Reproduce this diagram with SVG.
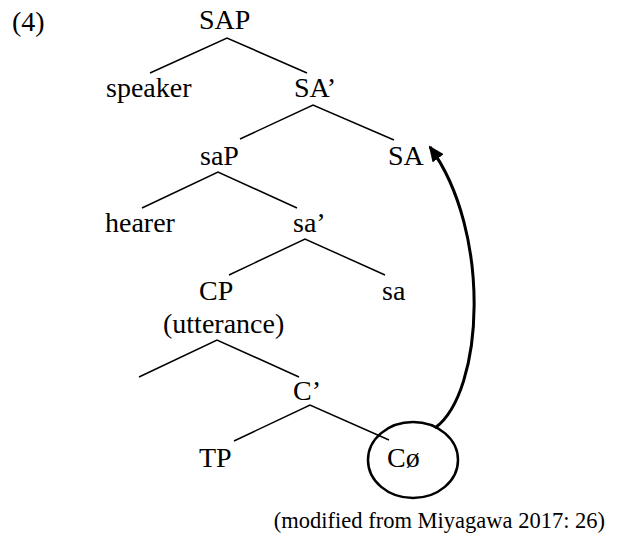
<svg xmlns="http://www.w3.org/2000/svg" width="617" height="541" viewBox="0 0 617 541">
<style>
text{font-family:'Liberation Serif','DejaVu Serif',serif;font-size:28px;fill:#000}
.ft{font-size:22.5px}
.br{stroke:#000;stroke-width:1.5;fill:none}
.arc{stroke:#000;stroke-width:3;fill:none}
</style>
<defs>
<marker id="ah" viewBox="0 0 16 14" refX="14" refY="7" markerWidth="16" markerHeight="14" orient="auto" markerUnits="userSpaceOnUse">
<path d="M0,0 L16,7 L0,14 z" fill="#000"/>
</marker>
</defs>
<rect width="617" height="541" fill="#fff"/>
<text x="12" y="31" font-family="Liberation Serif, serif">(4)</text>
<g id="connectors">
<path class="br" d="M150,73 L227,38 L307,73"/>
<path class="br" d="M240,139 L313,105 L394,140"/>
<path class="br" d="M142,208 L218,172 L297,208"/>
<path class="br" d="M229,275 L305,239 L385,275"/>
<path class="br" d="M139,377 L217,340 L299,377"/>
<path class="br" d="M234,441 L310,405 L389,440"/>
<path class="arc" d="M435,428 C484,392 492,232 430,147" marker-end="url(#ah)"/>
</g>
<g id="SAP"><text x="199" y="29" font-family="Liberation Serif, serif">SAP</text></g>
<g id="speaker"><text x="106" y="97" font-family="Liberation Serif, serif">speaker</text></g>
<g id="SA1"><text x="294" y="97" font-family="Liberation Serif, serif">SA’</text></g>
<g id="saP"><text x="200" y="165" font-family="Liberation Serif, serif">saP</text></g>
<g id="SA"><text x="388" y="165" font-family="Liberation Serif, serif">SA</text></g>
<g id="hearer"><text x="105" y="232" font-family="Liberation Serif, serif">hearer</text></g>
<g id="sa1"><text x="293" y="232" font-family="Liberation Serif, serif">sa’</text></g>
<g id="CP"><text x="199" y="300" font-family="Liberation Serif, serif">CP</text><text x="163" y="333" font-family="Liberation Serif, serif">(utterance)</text></g>
<g id="sa"><text x="382" y="300" font-family="Liberation Serif, serif">sa</text></g>
<g id="C1"><text x="293" y="400" font-family="Liberation Serif, serif">C’</text></g>
<g id="TP"><text x="199" y="467" font-family="Liberation Serif, serif">TP</text></g>
<g id="C0"><ellipse cx="413" cy="460" rx="45" ry="38" fill="none" stroke="#000" stroke-width="2.5"/><text x="387" y="467" font-family="Liberation Serif, serif">Cø</text></g>
<text class="ft" x="605" y="528" text-anchor="end" font-family="Liberation Serif, serif">(modified from Miyagawa 2017: 26)</text>
</svg>
